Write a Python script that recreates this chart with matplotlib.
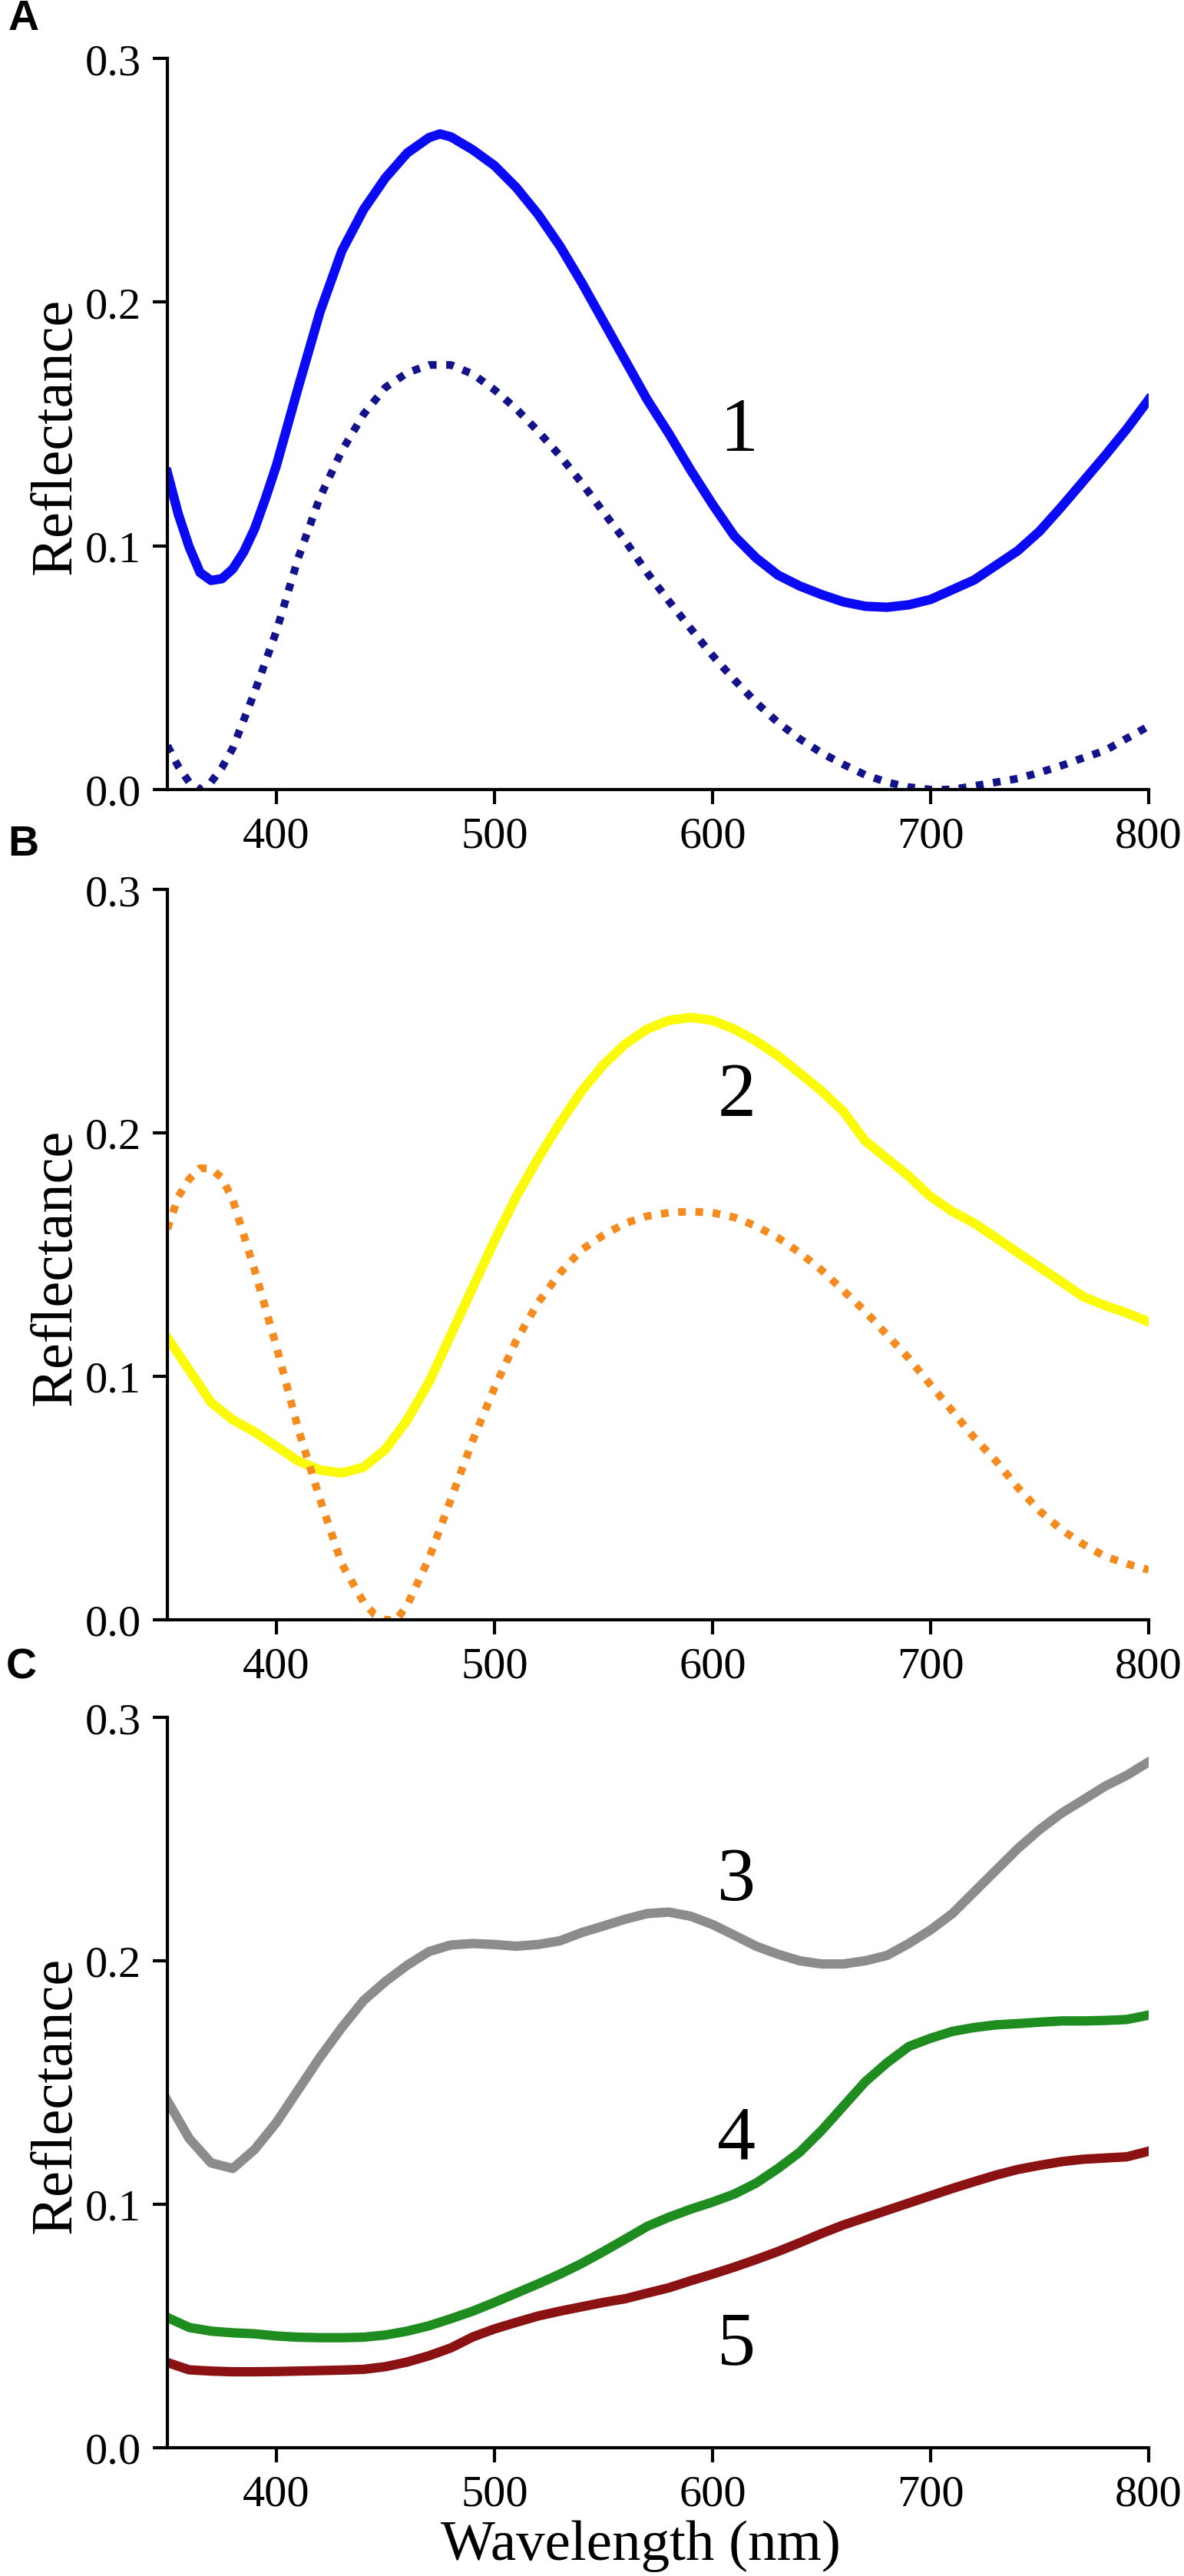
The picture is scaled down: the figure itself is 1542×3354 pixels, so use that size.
import matplotlib
matplotlib.use("Agg")
import matplotlib.pyplot as plt
from matplotlib.ticker import FormatStrFormatter

SERIF = ["Liberation Serif", "DejaVu Serif"]
SANS = ["Liberation Sans", "DejaVu Sans"]
plt.rcParams["font.family"] = SERIF

# ---------------- data ----------------
# Panel A
a_solid_nm = [350, 355, 360, 365, 370, 375, 380, 385, 390, 395,
              400, 410, 420, 430, 440, 450, 460, 470, 475, 480,
              490, 500, 510, 520, 530, 540, 550, 560, 570, 580,
              590, 600, 610, 620, 630, 640, 650, 660, 670, 680,
              690, 700, 710, 720, 730, 740, 750, 760, 770, 780,
              790, 800]
a_solid = [0.130, 0.113, 0.0995, 0.089, 0.0858, 0.0865, 0.0905, 0.0975, 0.107, 0.1195,
           0.133, 0.165, 0.196, 0.221, 0.238, 0.251, 0.2612, 0.2675, 0.269, 0.2678,
           0.2625, 0.256, 0.247, 0.236, 0.223, 0.208, 0.192, 0.176, 0.160, 0.146,
           0.131, 0.117, 0.104, 0.095, 0.088, 0.0835, 0.080, 0.077, 0.0752, 0.0748,
           0.0758, 0.078, 0.082, 0.086, 0.092, 0.098, 0.106, 0.116, 0.1265, 0.137,
           0.148, 0.160]

a_dotted_nm = [350, 355, 360, 365, 370, 375, 380, 390, 400, 410,
               420, 430, 440, 450, 460, 470, 480, 490, 500, 510,
               520, 530, 540, 550, 560, 570, 580, 590, 600, 610,
               620, 630, 640, 650, 660, 670, 680, 690, 700, 710,
               720, 730, 740, 750, 760, 770, 780, 790, 800]
a_dotted = [0.018, 0.0095, 0.003, 0.0, 0.003, 0.009, 0.017, 0.040, 0.065, 0.095,
            0.120, 0.139, 0.154, 0.165, 0.171, 0.1742, 0.1742, 0.1705, 0.164, 0.1562,
            0.147, 0.137, 0.1258, 0.1138, 0.102, 0.089, 0.0773, 0.066, 0.055, 0.045,
            0.0357, 0.0275, 0.0208, 0.015, 0.0103, 0.006, 0.003, 0.001, 0.0, 0.0,
            0.0015, 0.003, 0.0045, 0.007, 0.0098, 0.013, 0.016, 0.021, 0.026]

# Panel B
b_solid_nm = [350, 360, 370, 380, 390, 400, 410, 420, 430, 440,
              450, 460, 470, 480, 490, 500, 510, 520, 530, 540,
              550, 560, 570, 580, 590, 600, 610, 620, 630, 640,
              650, 660, 670, 680, 690, 700, 710, 720, 730, 740,
              750, 760, 770, 780, 790, 800]
b_solid = [0.1158, 0.1026, 0.0893, 0.0821, 0.0772, 0.0712, 0.0652, 0.0615, 0.0603, 0.0627,
           0.0700, 0.0821, 0.0977, 0.1170, 0.1364, 0.1557, 0.1738, 0.1895, 0.2040, 0.2172,
           0.2280, 0.2365, 0.2426, 0.2462, 0.2474, 0.2462, 0.2426, 0.2377, 0.2317, 0.2245,
           0.2172, 0.2088, 0.1967, 0.1895, 0.1822, 0.1738, 0.1677, 0.1629, 0.1569, 0.1508,
           0.1448, 0.1388, 0.1327, 0.1291, 0.1260, 0.1224]

b_dotted_nm = [350, 355, 360, 365, 370, 375, 380, 390, 400, 410,
               420, 430, 440, 445, 450, 455, 460, 470, 480, 490,
               500, 510, 520, 530, 540, 550, 560, 570, 580, 590,
               600, 610, 620, 630, 640, 650, 660, 670, 680, 690,
               700, 710, 720, 730, 740, 750, 760, 770, 780, 790,
               800]
b_dotted = [0.1605, 0.1738, 0.1810, 0.1855, 0.1852, 0.1815, 0.1725, 0.1436, 0.1122, 0.0784,
            0.0495, 0.0229, 0.0072, 0.0022, 0.0, 0.0, 0.0060, 0.0253, 0.0495, 0.0736,
            0.0953, 0.1147, 0.1303, 0.1424, 0.1520, 0.1580, 0.1629, 0.1658, 0.1672, 0.1677,
            0.1672, 0.1653, 0.1617, 0.1569, 0.1508, 0.1436, 0.1352, 0.1267, 0.1170, 0.1074,
            0.0965, 0.0857, 0.0748, 0.0652, 0.0543, 0.0447, 0.0370, 0.0310, 0.0260, 0.0230,
            0.0205]

# Panel C
c_nm = [350, 360, 370, 380, 390, 400, 410, 420, 430, 440,
        450, 460, 470, 480, 490, 500, 510, 520, 530, 540,
        550, 560, 570, 580, 590, 600, 610, 620, 630, 640,
        650, 660, 670, 680, 690, 700, 710, 720, 730, 740,
        750, 760, 770, 780, 790, 800]
c_gray = [0.1425, 0.127, 0.117, 0.1147, 0.1225, 0.1336, 0.147, 0.1604, 0.1726, 0.1837,
          0.1915, 0.1982, 0.2038, 0.2065, 0.2071, 0.2067, 0.206, 0.2067, 0.2082, 0.2116,
          0.2143, 0.2171, 0.2194, 0.220, 0.2183, 0.2149, 0.2105, 0.206, 0.2027, 0.200,
          0.1987, 0.1987, 0.200, 0.2022, 0.2071, 0.2127, 0.2194, 0.2283, 0.2372, 0.2461,
          0.2539, 0.2606, 0.2661, 0.2717, 0.2762, 0.2817]
c_green = [0.0535, 0.0494, 0.0479, 0.0472, 0.0468, 0.0459, 0.0454, 0.0452, 0.0452, 0.0454,
           0.0463, 0.0479, 0.0501, 0.053, 0.0561, 0.0597, 0.0635, 0.0673, 0.0713, 0.0757,
           0.0806, 0.0857, 0.0909, 0.0947, 0.098, 0.1009, 0.1042, 0.1087, 0.1147, 0.1214,
           0.1303, 0.1403, 0.1503, 0.1581, 0.1648, 0.1682, 0.171, 0.1726, 0.1737, 0.1742,
           0.1748, 0.1753, 0.1753, 0.1755, 0.1759, 0.1777]
c_red = [0.0350, 0.0320, 0.0315, 0.0312, 0.0312, 0.0313, 0.0315, 0.0317, 0.0319, 0.0322,
         0.0333, 0.0352, 0.0378, 0.0410, 0.0455, 0.0488, 0.0515, 0.0541, 0.0561, 0.0579,
         0.0597, 0.0612, 0.0635, 0.0657, 0.0686, 0.0713, 0.0742, 0.0773, 0.0806, 0.0842,
         0.0880, 0.0915, 0.0945, 0.0975, 0.1005, 0.1035, 0.1065, 0.1093, 0.1120, 0.1143,
         0.1160, 0.1175, 0.1185, 0.1190, 0.1195, 0.1218]

x_ticks = [400, 500, 600, 700, 800]
y_ticks = [0.0, 0.1, 0.2, 0.3]
panel_letters = ["A", "B", "C"]
curve_labels = ["1", "2", "3", "4", "5"]

# ---------------- figure ----------------
W, H = 1542, 3355
fig = plt.figure(figsize=(W / 100, H / 100), dpi=100)
fig.patch.set_facecolor("white")

ax_left = 218 / W
ax_width = (1496 - 218) / W
panel_px = [(77, 1029), (1159, 2110), (2237, 3188)]  # (top, bottom) in pixels

axes = []
for top, bot in panel_px:
    ax = fig.add_axes([ax_left, (H - bot) / H, ax_width, (bot - top) / H])
    ax.set_xlim(350, 800)
    ax.set_ylim(0, 0.3)
    for s in ("top", "right"):
        ax.spines[s].set_visible(False)
    for s in ("left", "bottom"):
        ax.spines[s].set_linewidth(3)
    ax.set_xticks(x_ticks)
    ax.set_yticks(y_ticks)
    ax.yaxis.set_major_formatter(FormatStrFormatter("%.1f"))
    ax.tick_params(direction="out", length=13.5, width=3, labelsize=42)
    ax.tick_params(axis="y", pad=11)
    ax.tick_params(axis="x", pad=11)
    ax.text(-0.113, 0.484, "Reflectance", transform=ax.transAxes, rotation=90,
            ha="center", va="center", fontsize=55)
    axes.append(ax)

solid_lw = 8.8
dot_lw = 7.2
dots = (0, (1.0, 1.25))

axA, axB, axC = axes
axA.plot(a_solid_nm, a_solid, color="#0A0AF5", lw=solid_lw, solid_joinstyle="round")
axA.plot(a_dotted_nm, a_dotted, color="#12128A", lw=dot_lw, linestyle=dots)
axB.plot(b_solid_nm, b_solid, color="#FAFA0A", lw=solid_lw, solid_joinstyle="round")
axB.plot(b_dotted_nm, b_dotted, color="#F58A1F", lw=dot_lw, linestyle=dots)
axC.plot(c_nm, c_gray, color="#8C8C8C", lw=solid_lw, solid_joinstyle="round")
axC.plot(c_nm, c_green, color="#1E8C1E", lw=solid_lw, solid_joinstyle="round")
axC.plot(c_nm, c_red, color="#8B1212", lw=solid_lw, solid_joinstyle="round")

label_fs = 72
axA.text(612, 0.1394, curve_labels[0], ha="center", va="baseline", fontsize=label_fs)
axB.text(611, 0.2075, curve_labels[1], ha="center", va="baseline", fontsize=label_fs)
axC.text(611, 0.2252, curve_labels[2], ha="center", va="baseline", fontsize=label_fs)
axC.text(611, 0.1192, curve_labels[3], ha="center", va="baseline", fontsize=label_fs)
axC.text(611, 0.0347, curve_labels[4], ha="center", va="baseline", fontsize=label_fs)

axC.text(0.482, -0.134, "Wavelength (nm)", transform=axC.transAxes,
         ha="center", va="center", fontsize=54)

for letter, (px, py) in zip(panel_letters, [(31, 25), (30, 1100), (28, 2171)]):
    fig.text(px / W, 1 - py / H, letter, ha="center", va="center",
             fontsize=40, fontweight="bold", family=SANS)

fig.savefig("out.png", dpi=100, facecolor="white")
